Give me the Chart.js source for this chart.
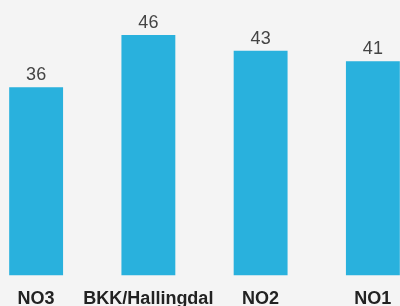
<!DOCTYPE html>
<html>
<head>
<meta charset="utf-8">
<script src="https://cdn.jsdelivr.net/npm/chart.js@4/dist/chart.umd.min.js"></script>
<style>
html,body{margin:0;padding:0;background:#f4f4f4;overflow:hidden;width:400px;height:306px;}
#wrap{position:absolute;left:-20px;top:0;width:449px;height:323px;}
</style>
</head>
<body>
<div id="wrap"><canvas id="c" width="449" height="323"></canvas></div>
<script>
const categories = ["NO3", "BKK/Hallingdal", "NO2", "NO1"];
const values = [36, 46, 43, 41];

const valueLabels = {
  id: 'valueLabels',
  afterDatasetsDraw(chart) {
    const ctx = chart.ctx;
    const meta = chart.getDatasetMeta(0);
    ctx.save();
    ctx.font = '400 18px "Liberation Sans", Arial, sans-serif';
    ctx.fillStyle = '#444444';
    ctx.textAlign = 'center';
    ctx.textBaseline = 'alphabetic';
    meta.data.forEach((bar, i) => {
      ctx.fillText(String(values[i]), bar.x, bar.y - 7);
    });
    ctx.restore();
  }
};

new Chart(document.getElementById('c'), {
  type: 'bar',
  data: {
    labels: categories,
    datasets: [{
      data: values,
      backgroundColor: '#29b1dd',
      borderWidth: 0,
      categoryPercentage: 1,
      barPercentage: 0.48
    }]
  },
  options: {
    responsive: false,
    animation: false,
    layout: { padding: 0 },
    plugins: { legend: { display: false }, tooltip: { enabled: false } },
    scales: {
      x: {
        grid: { display: false, drawTicks: false },
        border: { display: false },
        ticks: {
          autoSkip: false, maxRotation: 0, minRotation: 0,
          padding: 13,
          color: '#222222',
          font: { family: '"Liberation Sans", Arial, sans-serif', size: 18, weight: 'bold' }
        }
      },
      y: {
        display: false,
        min: 0,
        max: 52.7
      }
    }
  },
  plugins: [valueLabels]
});
</script>
</body>
</html>
